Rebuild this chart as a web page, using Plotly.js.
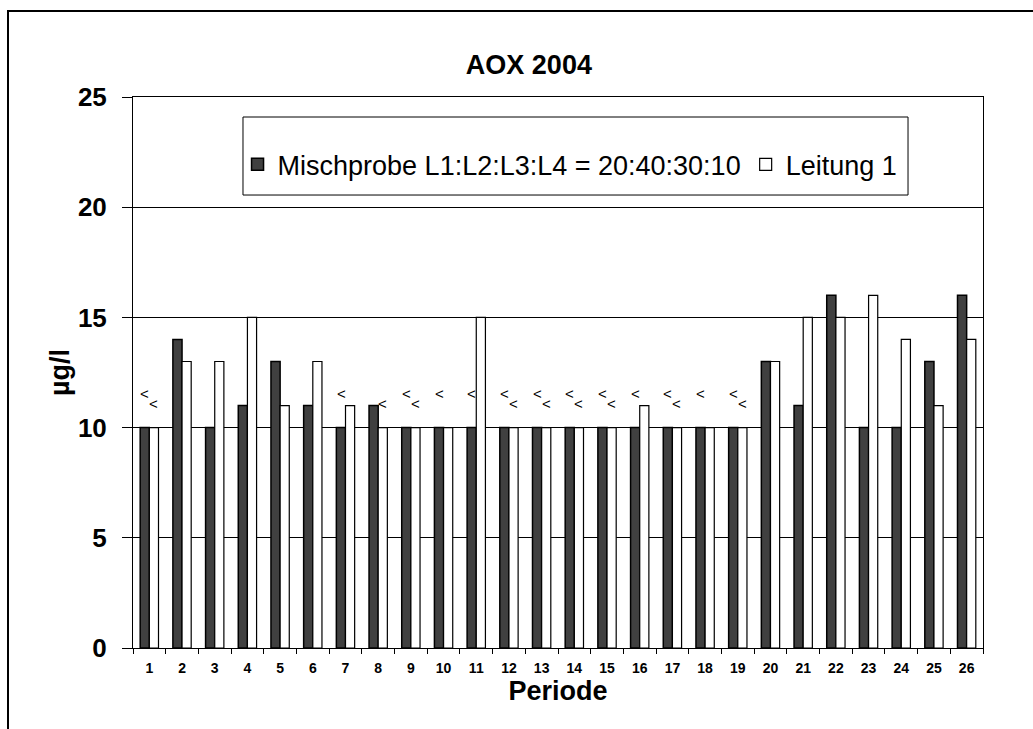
<!DOCTYPE html>
<html>
<head>
<meta charset="utf-8">
<script src="https://cdn.plot.ly/plotly-3.0.1.min.js"></script>
<style>
  html, body { margin: 0; padding: 0; background: #fff; overflow: hidden; }
  #wrap { position: relative; width: 1033px; height: 729px; }
  #chart { position: absolute; left: 0; top: 0; width: 1033px; height: 729px; }
  #frame { position: absolute; left: 7px; top: 10px; width: 1100px; height: 800px;
           border: 2px solid #000; pointer-events: none; }
</style>
</head>
<body>
<div id="wrap">
  <div id="chart"></div>
  <div id="frame"></div>
</div>
<script>
const periods = ['1','2','3','4','5','6','7','8','9','10','11','12','13','14','15','16','17','18','19','20','21','22','23','24','25','26'];
const mischprobe = [10,14,10,11,13,11,10,11,10,10,10,10,10,10,10,10,10,10,10,13,11,16,10,10,13,16];
const leitung1   = [10,13,13,15,11,13,11,10,10,10,15,10,10,10,10,11,10,10,10,13,15,15,16,14,11,14];
const mischLabels = ['<','','','','','','<','','<','<','<','<','<','<','<','<','<','<','<','','','','','','',''];
const leitLabels  = ['<','','','','','','','<','<','','','<','<','<','<','','<','','<','','','','','','',''];
const seriesNames = ['Mischprobe L1:L2:L3:L4 = 20:40:30:10', 'Leitung 1'];

const FONT = 'Arial, Liberation Sans, sans-serif';

const traces = [
  { type: 'bar', x: periods, y: mischprobe, name: seriesNames[0],
    marker: { color: '#404040', line: { color: '#000', width: 1.5 } } },
  { type: 'bar', x: periods, y: leitung1, name: seriesNames[1],
    marker: { color: '#ffffff', line: { color: '#000', width: 1.2 } } }
];

const annotations = [];
periods.forEach((p, i) => {
  if (mischLabels[i]) annotations.push({ x: i, y: mischprobe[i], xref: 'x', yref: 'y', text: mischLabels[i],
    showarrow: false, xshift: -4.5, yshift: 34, yanchor: 'middle', font: { family: FONT, size: 15, color: '#000' } });
  if (leitLabels[i]) annotations.push({ x: i, y: leitung1[i], xref: 'x', yref: 'y', text: leitLabels[i],
    showarrow: false, xshift: 4.5, yshift: 24, yanchor: 'middle', font: { family: FONT, size: 15, color: '#000' } });
});

const layout = {
  width: 1033, height: 729,
  paper_bgcolor: '#fff', plot_bgcolor: '#fff',
  margin: { l: 133, r: 50, t: 97, b: 81 },
  font: { family: FONT, color: '#000' },
  title: { text: '<b>AOX 2004</b>', x: 0.512, xanchor: 'center', y: 0.912, yanchor: 'middle',
           font: { size: 27, family: FONT, color: '#000' } },
  barmode: 'group', bargap: 0.44, bargroupgap: 0,
  xaxis: {
    type: 'category', tickson: 'boundaries', ticks: 'outside', ticklen: 5, tickcolor: '#000',
    showline: true, linecolor: '#000', linewidth: 1, mirror: true, showgrid: false,
    ticklabelstandoff: 7,
    tickfont: { size: 14, family: FONT, color: '#000', weight: 'bold' },
    title: { text: '<b>Periode</b>', font: { size: 27, family: FONT, color: '#000' }, standoff: 0 }
  },
  yaxis: {
    range: [0, 25], dtick: 5, tick0: 0, ticks: 'outside', ticklen: 10, tickcolor: '#000',
    showline: true, linecolor: '#000', linewidth: 1, mirror: true,
    showgrid: true, gridcolor: '#000', gridwidth: 1, zeroline: false,
    ticklabelstandoff: 10,
    tickfont: { size: 26, family: FONT, color: '#000', weight: 'bold' },
    title: { text: '<b>µg/l</b>', font: { size: 27, family: FONT, color: '#000' }, standoff: 0 }
  },
  showlegend: true,
  legend: {
    orientation: 'h', x: 0.123, xanchor: 'left', y: 0.877, yanchor: 'middle',
    bgcolor: 'rgba(0,0,0,0)', borderwidth: 0,
    font: { size: 27, family: FONT, color: '#000' },
    traceorder: 'normal', itemwidth: 30
  },
  shapes: [
    { type: 'rect', xref: 'paper', yref: 'paper', x0: 0.1294, x1: 0.9118, y0: 0.8221, y1: 0.9637,
      line: { color: '#000', width: 1 }, fillcolor: '#fff', layer: 'above' }
  ],
  annotations: annotations
};

Plotly.newPlot('chart', traces, layout, { displayModeBar: false, staticPlot: true });
</script>
</body>
</html>
